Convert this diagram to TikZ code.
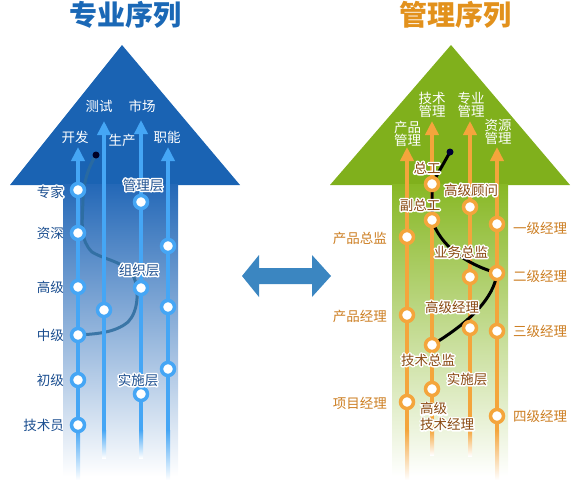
\documentclass[tikz,border=0pt]{standalone}
\usepackage{fontspec}
\setmainfont{Noto Sans CJK SC}
\usetikzlibrary{arrows.meta}
\definecolor{bhead}{HTML}{1A63B3}
\definecolor{btop}{HTML}{2468B7}
\definecolor{bmid}{HTML}{8BB0DB}
\definecolor{btitle}{HTML}{1A68B6}
\definecolor{bline}{HTML}{45A6F5}
\definecolor{blab}{HTML}{1C4F90}
\definecolor{bcurve}{HTML}{2C6C9E}
\definecolor{ghead}{HTML}{80B01C}
\definecolor{gtop}{HTML}{88B825}
\definecolor{gmid}{HTML}{C6DE92}
\definecolor{oline}{HTML}{F4A53C}
\definecolor{otitle}{HTML}{E2911C}
\definecolor{olab}{HTML}{CC7E22}
\definecolor{oin}{HTML}{8A4A12}
\definecolor{dbl}{HTML}{3B86C1}
% white halo: a stroked copy of the text under the filled text
\newcommand\halo[2]{\setbox0\hbox{#2}\leavevmode\rlap{\special{pdf:literal direct 1 Tr 3 w 1 j 1 1 1 RG}\copy0\special{pdf:literal direct 0 Tr 0 j}}{\color{#1}\box0}}
\tikzset{
  bln/.style={draw=bline, line width=4pt, -{Triangle[width=13pt,length=14pt]}},
  oln/.style={draw=oline, line width=4pt, -{Triangle[width=13pt,length=14pt]}},
  bdot/.style={circle, draw=bline, line width=3.5pt, fill=white, minimum size=13pt, inner sep=0pt},
  odot/.style={circle, draw=oline, line width=3.5pt, fill=white, minimum size=13pt, inner sep=0pt},
  lab/.style={inner sep=0pt, font=\fontsize{13.5}{13.5}\selectfont},
  ttl/.style={inner sep=0pt, font=\fontsize{28}{28}\selectfont\bfseries},
  enddot/.style={circle, minimum size=7pt, inner sep=0pt},
}
\begin{document}
\begin{tikzpicture}[x=1pt,y=-1pt]
\useasboundingbox (0,0) rectangle (572,482);
% ---------- left big arrow ----------
\fill[bhead] (122,45) -- (10,185) -- (240,185) -- cycle;
\shade[top color=btop, middle color=bmid, bottom color=white] (63,184.5) rectangle (178,476);
\node[ttl, text=btitle] (tL) at (125,15) {专业序列};
% ---------- right big arrow ----------
\fill[ghead] (451,45) -- (330,185) -- (570,185) -- cycle;
\shade[top color=gtop, middle color=gmid, bottom color=white] (392,184.5) rectangle (508,476);
\node[ttl, text=otitle] (tR) at (455,15) {管理序列};
% ---------- centre double arrow ----------
\fill[dbl] (242,276) -- (259,255) -- (259,268) -- (312,268) -- (312,255) -- (331,276)
  -- (312,297) -- (312,284) -- (259,284) -- (259,297) -- cycle;
% ---------- left coordinates ----------
\coordinate (p1a) at (78,190); \coordinate (p1b) at (78,233); \coordinate (p1c) at (78,287);
\coordinate (p1d) at (78,335); \coordinate (p1e) at (78,380); \coordinate (p1f) at (78,425);
\coordinate (p2a) at (104,310);
\coordinate (p3a) at (141,202); \coordinate (p3b) at (141,288); \coordinate (p3c) at (141,394);
\coordinate (p4a) at (168,246); \coordinate (p4b) at (168,307); \coordinate (p4c) at (168,369);
\coordinate (dL) at (96,155);
% left curve
\draw[bcurve, line width=3pt, opacity=.85] (dL) .. controls (88,168) and (84,180) .. (83,200)
  .. controls (82,225) and (80,240) .. (92,252)
  .. controls (105,260) and (125,262) .. (133,275)
  .. controls (140,290) and (138,312) .. (128,322)
  .. controls (115,333) and (95,334) .. (p1d);
% left lines
\coordinate (s1) at (78,430); \coordinate (e1) at (78,147);
\coordinate (s2) at (104,430); \coordinate (e2) at (104,121);
\coordinate (s3) at (141,430); \coordinate (e3) at (141,120);
\coordinate (s4) at (168,430); \coordinate (e4) at (168,147);
\draw[bln] (s1) -- (e1); \draw[bln] (s2) -- (e2); \draw[bln] (s3) -- (e3); \draw[bln] (s4) -- (e4);
\shade[top color=bline, bottom color=white] (76,430) rectangle (80,480);
\shade[top color=bline, bottom color=white] (102,430) rectangle (106,458);
\shade[top color=bline, bottom color=white] (139,430) rectangle (143,458);
\shade[top color=bline, bottom color=white] (166,430) rectangle (170,480);
% left circles
\foreach \n in {1a,1b,1c,1d,1e,1f,2a,3a,3b,3c,4a,4b,4c}{\node[bdot] (c\n) at (p\n) {};}
\node[enddot, fill=black!85!blue] (dotL) at (dL) {};
% left labels
\node[lab, anchor=east] (l1) at (64,192) {\halo{blab}{专家}};
\node[lab, anchor=east, text=blab] (l2) at (64,233) {资深};
\node[lab, anchor=east, text=blab] (l3) at (64,287) {高级};
\node[lab, anchor=east, text=blab] (l4) at (64,335) {中级};
\node[lab, anchor=east, text=blab] (l5) at (64,380) {初级};
\node[lab, anchor=east, text=blab] (l6) at (64,425) {技术员};
\node[lab, text=white] (h1) at (75,137) {开发};
\node[lab, text=white] (h2) at (99,106) {测试};
\node[lab, text=white] (h3) at (142,106) {市场};
\node[lab, text=white] (h4) at (122,140) {生产};
\node[lab, text=white] (h5) at (167,137) {职能};
\node[lab] (g1) at (143,185) {\halo{blab}{管理层}};
\node[lab] (g2) at (139,270) {\halo{blab}{组织层}};
\node[lab] (g3) at (138,380) {\halo{blab}{实施层}};
% ---------- right coordinates ----------
\coordinate (qa1) at (407,237); \coordinate (qa2) at (407,315); \coordinate (qa3) at (407,402);
\coordinate (qb1) at (432,184); \coordinate (qb2) at (432,220); \coordinate (qb3) at (432,345); \coordinate (qb4) at (432,389);
\coordinate (qc1) at (470,207); \coordinate (qc2) at (470,277); \coordinate (qc3) at (470,328);
\coordinate (qd1) at (497,224); \coordinate (qd2) at (497,273); \coordinate (qd3) at (497,331); \coordinate (qd4) at (497,416);
\coordinate (dR) at (450,152);
% right lines
\coordinate (u1) at (407,430); \coordinate (v1) at (407,147);
\coordinate (u2) at (432,430); \coordinate (v2) at (432,121);
\coordinate (u3) at (470,430); \coordinate (v3) at (470,121);
\coordinate (u4) at (497,430); \coordinate (v4) at (497,147);
\draw[oln] (u1) -- (v1); \draw[oln] (u2) -- (v2); \draw[oln] (u3) -- (v3); \draw[oln] (u4) -- (v4);
\shade[top color=oline, bottom color=white] (405,430) rectangle (409,480);
\shade[top color=oline, bottom color=white] (430,430) rectangle (434,455);
\shade[top color=oline, bottom color=white] (468,430) rectangle (472,456);
\shade[top color=oline, bottom color=white] (495,430) rectangle (499,480);
% black curve
\draw[black, line width=3pt] (dR) -- (qb1) -- (qb2)
  .. controls (440,245) and (465,264) .. (qd2)
  .. controls (494,298) and (470,322) .. (qb3);
% right circles
\foreach \n in {a1,a2,a3,b1,b2,b3,b4,c1,c2,c3,d1,d2,d3,d4}{\node[odot] (o\n) at (q\n) {};}
\node[enddot, fill=black!80!blue] (dotR) at (dR) {};
% right labels
\node[lab, anchor=east, text=olab] (m1) at (387,238) {产品总监};
\node[lab, anchor=east, text=olab] (m2) at (387,316) {产品经理};
\node[lab, anchor=east, text=olab] (m3) at (387,403) {项目经理};
\node[lab, anchor=west, text=olab] (n1) at (513,228) {一级经理};
\node[lab, anchor=west, text=olab] (n2) at (513,276) {二级经理};
\node[lab, anchor=west, text=olab] (n3) at (513,331) {三级经理};
\node[lab, anchor=west, text=olab] (n4) at (513,416) {四级经理};
\node[lab, text=white, align=center] (r1) at (407.5,134) {产品\\管理};
\node[lab, text=white, align=center] (r2) at (432,105) {技术\\管理};
\node[lab, text=white, align=center] (r3) at (471,105) {专业\\管理};
\node[lab, text=white, align=center] (r4) at (498,132) {资源\\管理};
\node[lab] (k1) at (427,168) {\halo{oin}{总工}};
\node[lab] (k2) at (471,190) {\halo{oin}{高级顾问}};
\node[lab] (k3) at (420,205) {\halo{oin}{副总工}};
\node[lab] (k4) at (461,252) {\halo{oin}{业务总监}};
\node[lab] (k5) at (452,307) {\halo{oin}{高级经理}};
\node[lab] (k6) at (428,360) {\halo{oin}{技术总监}};
\node[lab] (k7) at (467,379) {\halo{oin}{实施层}};
\node[lab, anchor=west] (k8) at (420,418) {\halo{oin}{\begin{tabular}{@{}l@{}}高级\\技术经理\end{tabular}}};
\end{tikzpicture}
\end{document}
